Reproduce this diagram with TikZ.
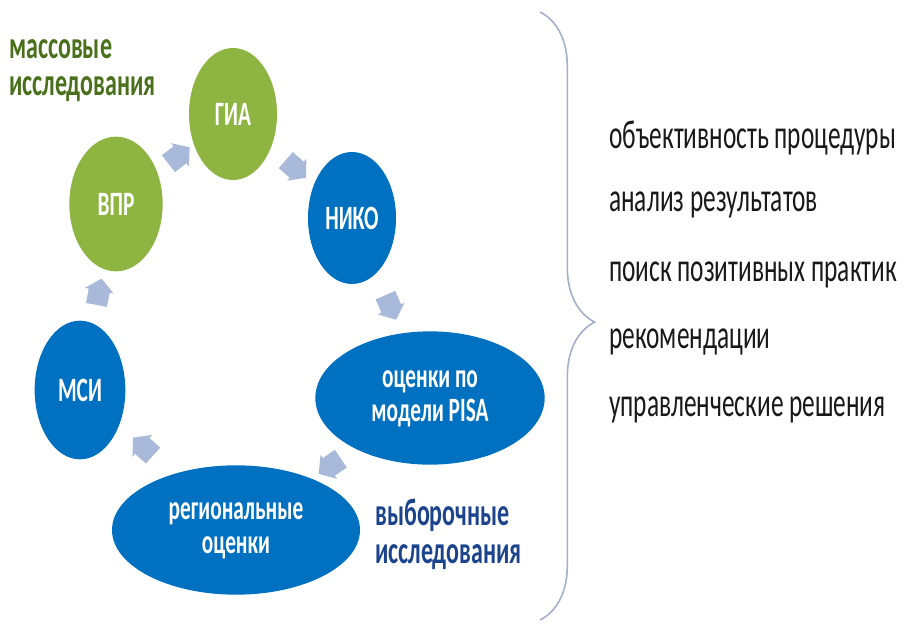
\documentclass[tikz,border=0pt]{standalone}
\usepackage{fontspec}
\setmainfont{Carlito}
\usepackage{graphicx}
\usetikzlibrary{shapes.geometric, shapes.arrows, decorations.pathreplacing}
\definecolor{mainGreen}{RGB}{142,180,66}
\definecolor{mainBlue}{RGB}{0,112,192}
\definecolor{arrowBlue}{RGB}{168,185,218}
\definecolor{labelGreen}{RGB}{74,112,28}
\definecolor{labelBlue}{RGB}{28,68,140}
\definecolor{braceGray}{RGB}{165,175,200}
\definecolor{mainBlack}{gray}{0.1}
\newcommand{\tallt}[1]{\scalebox{1}[1.6]{#1}}
\newcommand{\twolines}[2]{\tallt{\begin{tabular}{@{}c@{}}#1\\#2\end{tabular}}}

\begin{document}
\begin{tikzpicture}[x=0.75pt, y=-0.75pt,
    bubble/.style={ellipse, inner sep=0pt, text=white, font=\fontsize{16}{16}\selectfont\bfseries},
    greenbubble/.style={bubble, fill=mainGreen},
    bluebubble/.style={bubble, fill=mainBlue},
    cyc/.style={single arrow, fill=arrowBlue, draw=none, inner sep=6.5pt, minimum width=22pt,
        single arrow head extend=2.5pt, single arrow tip angle=100, sloped, allow upside down},
    grouplabel/.style={anchor=west, inner sep=0pt, font=\fontsize{18}{18}\selectfont\bfseries},
    listitem/.style={anchor=west, inner sep=0pt, text=mainBlack, font=\fontsize{19}{19}\selectfont}]
    \useasboundingbox (0,0) rectangle (907,624);

    % cycle
    \node[greenbubble, minimum width=66pt, minimum height=99pt] (gia) at (233,114) {\tallt{ГИА}};
    \node[greenbubble, minimum width=70pt, minimum height=101pt] (vpr) at (116,204) {\tallt{ВПР}};
    \node[bluebubble, minimum width=66pt, minimum height=99pt] (niko) at (352,218) {\tallt{НИКО}};
    \node[bluebubble, minimum width=172pt, minimum height=100pt] (pisa) at (430,398) {\twolines{оценки по}{модели PISA}};
    \node[bluebubble, minimum width=186pt, minimum height=97pt] (region) at (236,530) {\twolines{региональные}{оценки}};
    \node[bluebubble, minimum width=68pt, minimum height=104pt] (msi) at (80,390) {\tallt{МСИ}};

    \path (vpr) -- node[cyc] {} (gia);
    \path (gia) -- node[cyc] {} (niko);
    \path (niko) -- node[cyc] {} (pisa);
    \path (pisa) -- node[cyc] {} (region);
    \path (region) -- node[cyc] {} (msi);
    \path (msi) -- node[cyc] {} (vpr);

    % group labels
    \node[grouplabel, text=labelGreen] (mass) at (9,49) {\tallt{массовые}};
    \node[grouplabel, text=labelGreen] (mass2) at (9,89) {\tallt{исследования}};
    \node[grouplabel, text=labelBlue] (sel) at (375,515) {\tallt{выборочные}};
    \node[grouplabel, text=labelBlue] (sel2) at (375,557) {\tallt{исследования}};

    % brace and list
    \coordinate (btop) at (540,12);
    \coordinate (bbot) at (540,620);
    \draw[braceGray, line width=1.2pt, decorate, decoration={brace, amplitude=41pt, aspect=0.51}] (btop) -- (bbot);

    \node[listitem] (r1) at (609,138) {\tallt{объективность процедуры}};
    \node[listitem] (r2) at (609,205) {\tallt{анализ результатов}};
    \node[listitem] (r3) at (609,275) {\tallt{поиск позитивных практик}};
    \node[listitem] (r4) at (609,342) {\tallt{рекомендации}};
    \node[listitem] (r5) at (609,410) {\tallt{управленческие решения}};
\end{tikzpicture}
\end{document}
